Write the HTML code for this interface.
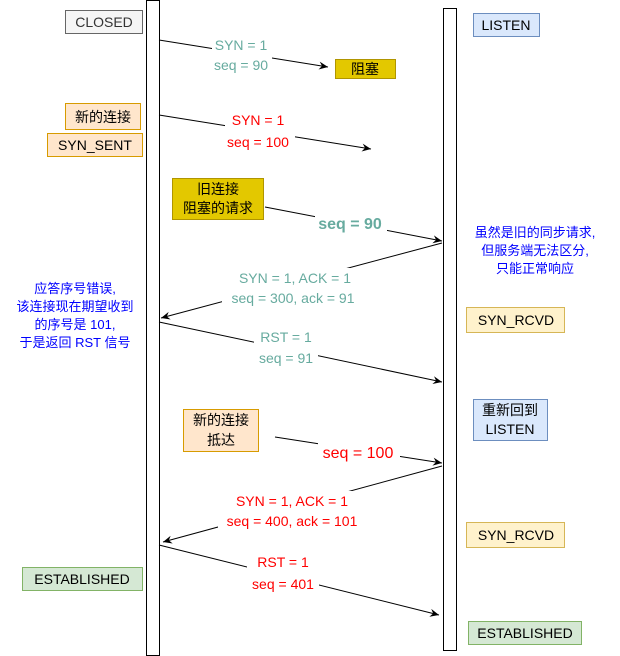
<!DOCTYPE html>
<html><head><meta charset="utf-8"><style>
html,body{margin:0;padding:0;background:#fff;}
svg{display:block;}
text{font-family:"Liberation Sans","Noto Sans CJK SC",sans-serif;}
</style></head><body>
<svg width="620" height="656" viewBox="0 0 620 656" xmlns="http://www.w3.org/2000/svg">
<defs>
<marker id="a" markerWidth="10" markerHeight="10" refX="9" refY="5" orient="auto" markerUnits="userSpaceOnUse">
<path d="M0,1 L9,5 L0,9 L3,5 Z" fill="#000"/></marker>
</defs>
<rect x="146.5" y="0.5" width="13" height="655" fill="#fff" stroke="#000"/>
<rect x="443.5" y="8.5" width="13" height="642" fill="#fff" stroke="#000"/>
<g stroke="#000" stroke-width="1" fill="none" marker-end="url(#a)">
<line x1="159" y1="40" x2="328" y2="67"/>
<line x1="159" y1="115" x2="371" y2="149"/>
<line x1="265" y1="207" x2="442" y2="241"/>
<line x1="442" y1="243" x2="161" y2="318"/>
<line x1="159" y1="322" x2="442" y2="382"/>
<line x1="275" y1="437" x2="442" y2="463"/>
<line x1="442" y1="466" x2="163" y2="542"/>
<line x1="159" y1="545" x2="439" y2="615"/>
</g>
<g font-size="14" text-anchor="middle">
<g fill="#fff"><rect x="212" y="36" width="60" height="36"/><rect x="225" y="111" width="70" height="40"/><rect x="315" y="213" width="72" height="20"/><rect x="222" y="268" width="142" height="40"/><rect x="254" y="327" width="64" height="40"/><rect x="318" y="442" width="82" height="20"/><rect x="218" y="491" width="150" height="40"/><rect x="247" y="552" width="72" height="40"/></g>
<g fill="#67AB9F"><text x="241" y="50">SYN = 1</text><text x="241" y="70">seq = 90</text>
<text x="350" y="229" font-size="16" font-weight="bold">seq = 90</text>
<text x="295" y="283">SYN = 1, ACK = 1</text><text x="293" y="303">seq = 300, ack = 91</text>
<text x="286" y="342">RST = 1</text><text x="286" y="363">seq = 91</text></g>
<g fill="#FF0000"><text x="258" y="125">SYN = 1</text><text x="258" y="147">seq = 100</text>
<text x="358" y="458" font-size="16">seq = 100</text>
<text x="292" y="506">SYN = 1, ACK = 1</text><text x="292" y="526">seq = 400, ack = 101</text>
<text x="283" y="567">RST = 1</text><text x="283" y="589">seq = 401</text></g>
<g fill="#0000FF" font-size="13"><text x="535" y="237">虽然是旧的同步请求,</text><text x="535" y="255">但服务端无法区分,</text><text x="535" y="273">只能正常响应</text>
<text x="75" y="293">应答序号错误,</text><text x="75" y="311">该连接现在期望收到</text><text x="75" y="329">的序号是 101,</text><text x="75" y="347">于是返回 RST 信号</text></g>
</g>
<g font-size="14" text-anchor="middle" fill="#000">
<rect x="65.5" y="10.5" width="77" height="23" fill="#f5f5f5" stroke="#666"/><text x="104" y="27" fill="#333">CLOSED</text>
<rect x="473.5" y="13.5" width="66" height="23" fill="#dae8fc" stroke="#6c8ebf"/><text x="506" y="30">LISTEN</text>
<rect x="335.5" y="59.5" width="60" height="19" fill="#e3c800" stroke="#B09500"/><text x="365" y="74">阻塞</text>
<rect x="65.5" y="103.5" width="75" height="26" fill="#ffe6cc" stroke="#d79b00"/><text x="103" y="122">新的连接</text>
<rect x="47.5" y="133.5" width="95" height="23" fill="#ffe6cc" stroke="#d79b00"/><text x="95" y="150">SYN_SENT</text>
<rect x="172.5" y="178.5" width="91" height="41" fill="#e3c800" stroke="#B09500"/><text x="218" y="194">旧连接</text><text x="218" y="213">阻塞的请求</text>
<rect x="466.5" y="307.5" width="98" height="25" fill="#fff2cc" stroke="#d6b656"/><text x="516" y="325">SYN_RCVD</text>
<rect x="473.5" y="399.5" width="74" height="41" fill="#dae8fc" stroke="#6c8ebf"/><text x="510" y="415">重新回到</text><text x="510" y="434">LISTEN</text>
<rect x="183.5" y="409.5" width="75" height="42" fill="#ffe6cc" stroke="#d79b00"/><text x="221" y="425">新的连接</text><text x="221" y="445">抵达</text>
<rect x="466.5" y="522.5" width="98" height="25" fill="#fff2cc" stroke="#d6b656"/><text x="516" y="540">SYN_RCVD</text>
<rect x="22.5" y="567.5" width="120" height="23" fill="#d5e8d4" stroke="#82b366"/><text x="82" y="584">ESTABLISHED</text>
<rect x="468.5" y="621.5" width="113" height="23" fill="#d5e8d4" stroke="#82b366"/><text x="525" y="638">ESTABLISHED</text>
</g>
</svg>
</body></html>
